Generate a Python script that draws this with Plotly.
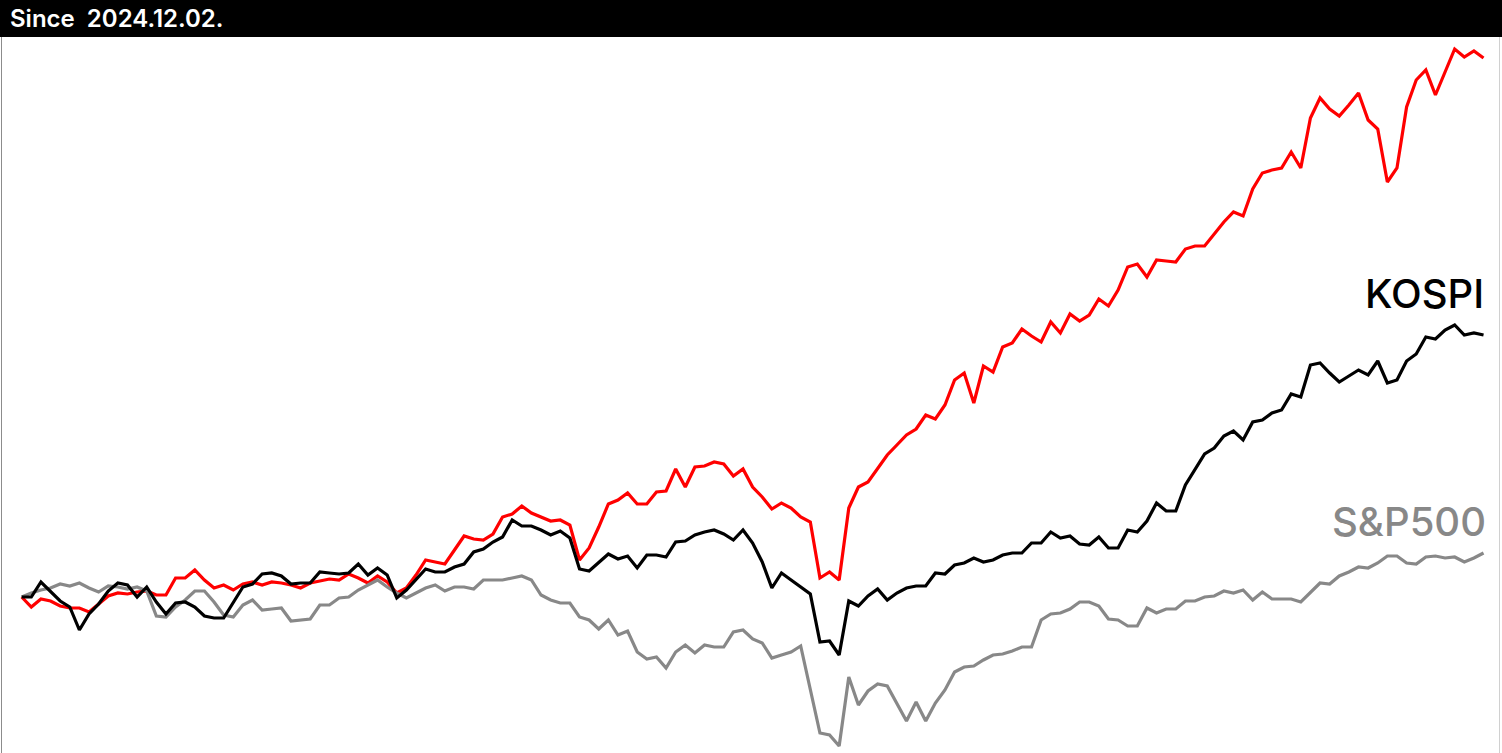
import plotly.graph_objects as go

# Cumulative return (%) since 2024.12.02, one point per trading day
day_index = list(range(153))

red_series = [
    0.0, -1.0, -0.2, -0.4, -0.9, -1.1, -1.1, -1.5, -0.7, 0.1,
    0.4, 0.3, 0.5, 0.6, 0.2, 0.2, 1.9, 1.9, 2.7, 1.7,
    0.9, 1.2, 0.7, 1.3, 1.5, 1.2, 1.5, 1.4, 1.2, 0.9,
    1.4, 1.6, 1.8, 1.7, 2.3, 1.9, 1.4, 2.1, 1.5, 0.4,
    0.9, 2.2, 3.7, 3.5, 3.3, 4.7, 6.1, 5.8, 5.7, 6.3,
    8.0, 8.3, 9.1, 8.4, 8.0, 7.6, 7.7, 7.2, 3.7, 4.9,
    7.0, 9.3, 9.7, 10.4, 9.3, 9.3, 10.5, 10.6, 12.8, 11.0,
    13.0, 13.1, 13.5, 13.3, 12.1, 12.8, 11.0, 10.0, 8.8, 9.4,
    8.9, 8.0, 7.5, 1.9, 2.5, 1.7, 8.9, 11.0, 11.5, 12.9,
    14.2, 15.2, 16.2, 16.8, 18.2, 17.8, 19.2, 21.7, 22.4, 19.4,
    23.1, 22.5, 25.0, 25.4, 26.8, 26.1, 25.5, 27.5, 26.4, 28.3,
    27.6, 28.2, 29.8, 29.1, 30.7, 33.0, 33.3, 32.0, 33.7, 33.6,
    33.5, 34.8, 35.1, 35.1, 36.3, 37.5, 38.5, 38.1, 40.8, 42.4,
    42.7, 42.9, 44.5, 42.9, 47.9, 49.9, 48.8, 48.1, 49.2, 50.4,
    47.7, 46.8, 41.5, 42.9, 49.0, 51.7, 52.7, 50.2, 52.5, 54.8,
    54.0, 54.6, 53.9,
]

kospi = [
    0.0, 0.0, 1.5, 0.5, -0.4, -1.0, -3.3, -1.7, -0.7, 0.6,
    1.4, 1.2, 0.0, 1.0, -0.5, -1.7, -0.6, -0.5, -1.0, -1.9,
    -2.1, -2.1, -0.6, 1.0, 1.3, 2.3, 2.4, 2.1, 1.3, 1.4,
    1.4, 2.5, 2.4, 2.3, 2.4, 3.3, 2.2, 2.9, 2.2, -0.1,
    0.7, 1.8, 2.8, 2.5, 2.5, 3.0, 3.3, 4.5, 4.8, 5.5,
    6.0, 7.7, 7.1, 7.1, 6.7, 6.2, 6.6, 5.9, 2.8, 2.6,
    3.5, 4.3, 3.8, 4.1, 2.9, 4.2, 4.2, 4.0, 5.5, 5.6,
    6.2, 6.5, 6.7, 6.3, 5.7, 6.7, 5.4, 3.5, 0.9, 2.4,
    1.7, 1.0, 0.3, -4.5, -4.4, -5.8, -0.4, -0.9, 0.1, 0.8,
    -0.3, 0.4, 0.9, 1.1, 1.1, 2.4, 2.3, 3.2, 3.4, 3.9,
    3.5, 3.7, 4.2, 4.4, 4.4, 5.4, 5.4, 6.5, 5.9, 6.1,
    5.3, 5.2, 6.0, 4.9, 4.9, 6.7, 6.5, 7.6, 9.4, 8.6,
    8.6, 11.2, 12.8, 14.3, 14.9, 16.1, 16.6, 15.7, 17.5, 17.7,
    18.4, 18.7, 20.3, 20.0, 23.2, 23.4, 22.4, 21.5, 22.1, 22.7,
    22.2, 23.6, 21.4, 21.7, 23.6, 24.3, 26.0, 25.8, 26.7, 27.2,
    26.2, 26.4, 26.2,
]

sp500 = [
    0.0, 0.4, 0.7, 0.9, 1.3, 1.1, 1.4, 0.9, 0.5, 1.1,
    1.0, 0.8, 1.0, 0.6, -1.9, -2.0, -1.0, -0.3, 0.6, 0.6,
    -0.5, -1.8, -2.0, -0.8, -0.3, -1.3, -1.2, -1.1, -2.4, -2.3,
    -2.2, -0.8, -0.8, -0.1, 0.0, 0.7, 1.2, 1.7, 1.0, 0.4,
    -0.1, 0.4, 0.9, 1.2, 0.6, 1.0, 1.0, 0.8, 1.7, 1.7,
    1.7, 1.9, 2.1, 1.7, 0.2, -0.3, -0.6, -0.6, -2.0, -2.3,
    -3.2, -2.3, -3.8, -3.4, -5.5, -6.2, -6.0, -7.1, -5.5, -4.8,
    -5.6, -4.8, -5.0, -5.0, -3.5, -3.3, -4.2, -4.6, -6.1, -5.8,
    -5.5, -4.9, -9.2, -13.6, -13.8, -14.9, -8.0, -10.8, -9.4, -8.7,
    -8.9, -10.6, -12.4, -10.5, -12.4, -10.6, -9.3, -7.5, -7.0, -6.9,
    -6.3, -5.8, -5.7, -5.4, -5.0, -5.0, -2.3, -1.7, -1.6, -1.2,
    -0.5, -0.5, -0.9, -2.2, -2.3, -2.9, -2.9, -1.1, -1.6, -1.2,
    -1.2, -0.4, -0.4, 0.0, 0.1, 0.6, 0.4, 0.7, -0.3, 0.5,
    -0.2, -0.2, -0.2, -0.5, 0.4, 1.4, 1.3, 2.1, 2.5, 3.0,
    2.9, 3.4, 4.1, 4.1, 3.4, 3.3, 4.0, 4.1, 3.9, 4.0,
    3.5, 3.9, 4.4,
]

header_text = "Since \u00a02024.12.02."
label_kospi = "KOSPI"
label_sp = "S&P500"

RED = "#ff0000"
BLACK = "#000000"
GRAY = "#888888"

W, H = 1502, 753
HEADER_H = 37

fig = go.Figure()
fig.add_trace(go.Scatter(x=day_index, y=red_series, mode="lines",
                         line=dict(color=RED, width=3.2), hoverinfo="skip"))
fig.add_trace(go.Scatter(x=day_index, y=sp500, mode="lines",
                         line=dict(color=GRAY, width=3.2), hoverinfo="skip"))
fig.add_trace(go.Scatter(x=day_index, y=kospi, mode="lines",
                         line=dict(color=BLACK, width=3.2), hoverinfo="skip"))

fig.update_layout(
    width=W, height=H,
    margin=dict(l=0, r=0, t=0, b=0),
    paper_bgcolor="white", plot_bgcolor="white",
    showlegend=False,
    xaxis=dict(range=[-2.256, 153.92], visible=False, fixedrange=True),
    yaxis=dict(range=[-15.6, 59.7], visible=False, fixedrange=True),
)

# header bar
fig.add_shape(type="rect", xref="paper", yref="paper",
              x0=0, x1=1, y0=1 - HEADER_H / H, y1=1,
              fillcolor="black", line=dict(width=0), layer="above")
# frame lines
fig.add_shape(type="line", xref="paper", yref="paper",
              x0=1.5 / W, x1=1.5 / W, y0=0, y1=1 - HEADER_H / H,
              line=dict(color="#8c8c8c", width=1), layer="above")
fig.add_shape(type="line", xref="paper", yref="paper",
              x0=1499.5 / W, x1=1499.5 / W, y0=0, y1=1 - HEADER_H / H,
              line=dict(color="#d0d0d0", width=1), layer="above")

fig.add_annotation(text=header_text, xref="paper", yref="paper",
                   x=8 / W, y=1 - 18.5 / H, xanchor="left", yanchor="middle",
                   showarrow=False,
                   font=dict(family="Inter", size=24, color="white", weight=600))
fig.add_annotation(text=label_kospi, xref="paper", yref="paper",
                   x=1486 / W, y=1 - 293.5 / H, xanchor="right", yanchor="middle",
                   showarrow=False,
                   font=dict(family="Inter", size=40, color=BLACK, weight=500))
fig.add_annotation(text=label_sp, xref="paper", yref="paper",
                   x=1488 / W, y=1 - 521.5 / H, xanchor="right", yanchor="middle",
                   showarrow=False,
                   font=dict(family="Inter", size=40, color=GRAY, weight=500))

fig.write_html(
    "out.html",
    config={"displayModeBar": False, "staticPlot": True},
    post_script="document.body.style.margin='0';document.body.style.overflow='hidden';",
)
